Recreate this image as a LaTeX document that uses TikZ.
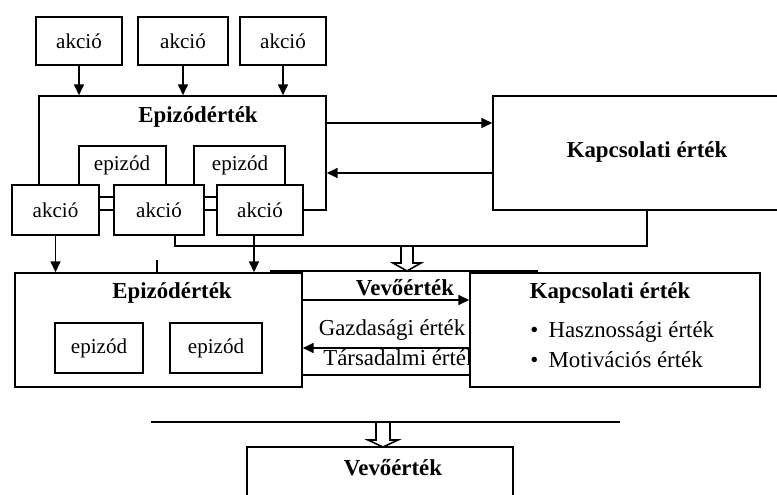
\documentclass[tikz,border=0pt]{standalone}
\usepackage{fontspec}
\setmainfont{Liberation Serif}
\usepackage{tikz}
\usetikzlibrary{arrows.meta, positioning}
\newdimen\px
\px=0.02cm
\tikzset{
    box/.style={rectangle, draw=black, fill=white, line width=0.9pt, inner sep=0pt, font=\fontsize{12}{14}\selectfont},
    title/.style={inner sep=0pt, font=\fontsize{13}{15}\selectfont\bfseries},
    plain/.style={inner sep=0pt, font=\fontsize{13}{15}\selectfont},
    link/.style={line width=0.9pt},
    arrow/.style={line width=0.9pt, -{Triangle[length=6.2pt, width=5.7pt]}},
    hollow/.style={draw=black, fill=white, line width=0.9pt, line join=miter}
}

\begin{document}
\begin{tikzpicture}[x=1\px, y=-1\px]
    \path[use as bounding box, clip] (0,0) rectangle (777,494);

    % upper part
    \node (a1) [box, minimum width=86\px, minimum height=48\px] at (79,41) {akció};
    \node (a2) [box, minimum width=90\px, minimum height=48\px] at (183,41) {akció};
    \node (a3) [box, minimum width=86\px, minimum height=48\px] at (283,41) {akció};

    \node (ep1) [box, minimum width=287\px, minimum height=114\px] at (182.5,153) {};
    \node (ep1title) [title] at (198,117) {Epizódérték};
    \node (e1) [box, minimum width=87\px, minimum height=51\px] at (122.5,171.5) {};
    \node (e2) [box, minimum width=91\px, minimum height=51\px] at (239.5,171.5) {};
    \node (e1text) [box, draw=none, fill=none] at (122,165) {epizód};
    \node (e2text) [box, draw=none, fill=none] at (240,165) {epizód};

    \node (b1) [box, minimum width=87\px, minimum height=50\px] at (55.5,210) {akció};
    \node (b2) [box, minimum width=90\px, minimum height=50\px] at (159,210) {akció};
    \node (b3) [box, minimum width=86\px, minimum height=50\px] at (260,210) {akció};

    \node (kap1) [box, minimum width=308\px, minimum height=114\px] at (647,153) {};
    \node (kap1title) [title] at (647,152) {Kapcsolati érték};

    \foreach \a in {a1, a2, a3}
        \draw [arrow] (\a.south) -- (\a.south |- ep1.north);

    \coordinate (ek) at ([yshift=30\px]ep1.east);
    \coordinate (ke) at ([yshift=-20\px]kap1.west);
    \draw [arrow] (ek) -- (ek -| kap1.west);
    \draw [arrow] (ke) -- (ke -| ep1.east);

    \coordinate (drop1) at (407,245);
    \draw [hollow] (drop1) ++(-6,0) -- ++(0,18) -- ++(-8,0) -- ++(14,8) -- ++(14,-8) -- ++(-8,0) -- ++(0,-18);
    \draw [link] ([xshift=16\px]b2.south) -- ++(0,10) -| (kap1.south);

    % lower part
    \node (ep2) [box, minimum width=287\px, minimum height=114\px] at (158.5,330) {};
    \node (ep2title) [title] at (172,293) {Epizódérték};
    \node (f1) [box, minimum width=88\px, minimum height=50\px] at (99,348) {epizód};
    \node (f2) [box, minimum width=92\px, minimum height=50\px] at (216,348) {epizód};

    \draw [line width=1.3pt] (270,271) -- (538,271);
    \draw [link] (157,260) -- (157,273);

    \draw [arrow] (b1.south) -- (b1.south |- ep2.north);
    \draw [arrow] ([xshift=-6\px]b3.south) -- ([xshift=-6\px]b3.south |- ep2.north);

    \node (gazd) [plain] at (392,330) {Gazdasági érték};
    \node (tars) [plain, anchor=west] at (323,358) {Társadalmi érték};

    \node (kap2) [box, minimum width=290\px, minimum height=114\px] at (615,330) {};
    \node (kap2title) [title] at (610,293) {Kapcsolati érték};
    \node (hasz) [plain, anchor=west] at (530,332) {\textbullet\hspace{0.45em}Hasznossági érték};
    \node (motiv) [plain, anchor=west] at (530,360) {\textbullet\hspace{0.45em}Motivációs érték};

    \coordinate (vv) at ([yshift=30\px]ep2.east);
    \coordinate (gt) at ([yshift=-18\px]kap2.west);
    \coordinate (bl) at ([yshift=-45\px]ep2.east);
    \draw [arrow] (vv) -- (vv -| kap2.west);
    \node (vlab) [title] at (405,288) {Vevőérték};
    \draw [arrow] (gt) -- (gt -| ep2.east);
    \draw [link] (bl) -- (bl -| kap2.west);

    % bottom
    \coordinate (drop2) at (383,422);
    \draw [hollow] (drop2) ++(-7,0) -- ++(0,18) -- ++(-8,0) -- ++(15,7) -- ++(15,-7) -- ++(-8,0) -- ++(0,-18);
    \draw [link] (151,422) -- (620,422);
    \node (vev) [box, minimum width=266\px, minimum height=80\px] at (380,487) {};
    \node (vevtitle) [title] at (393,468) {Vevőérték};
\end{tikzpicture}
\end{document}
